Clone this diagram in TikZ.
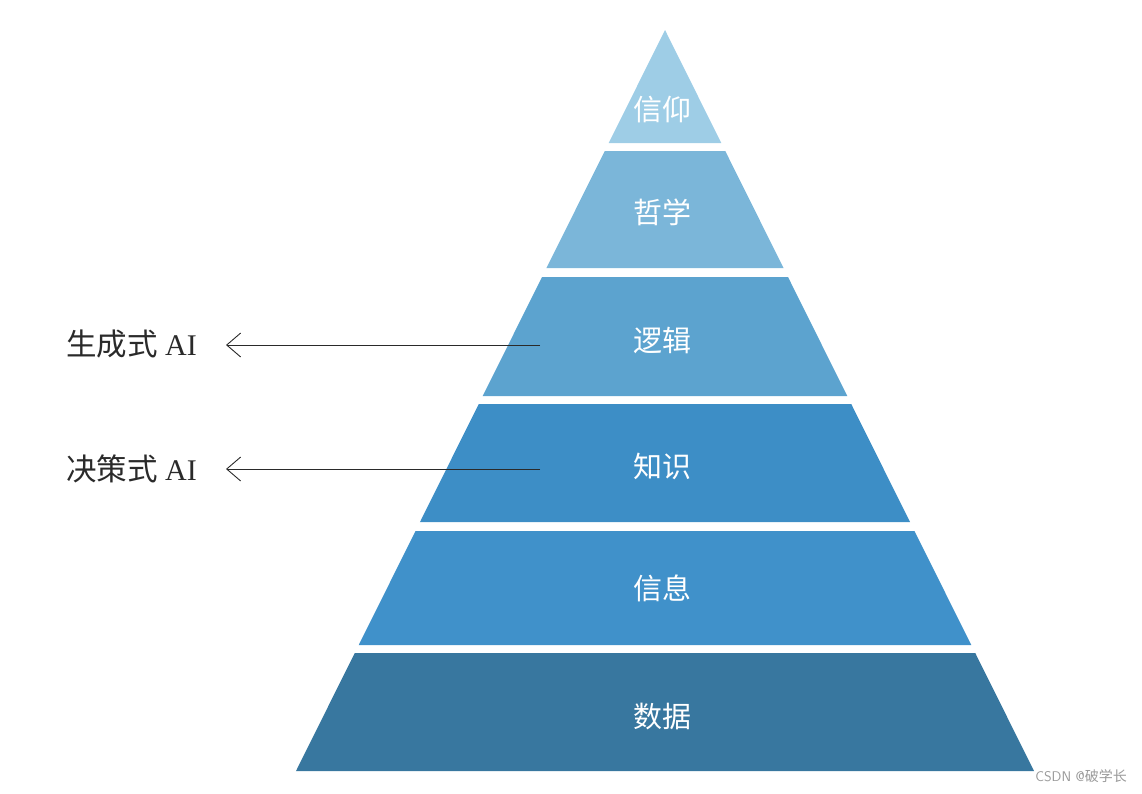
\documentclass[tikz,border=0pt]{standalone}
\usepackage{fontspec}
\setmainfont{Liberation Serif}
\newfontfamily\cjk{Noto Sans CJK SC}
\usetikzlibrary{arrows.meta}
\definecolor{cA}{HTML}{9ECDE6}
\definecolor{cB}{HTML}{7BB6D9}
\definecolor{cC}{HTML}{5CA3CF}
\definecolor{cD}{HTML}{3D8EC6}
\definecolor{cE}{HTML}{4091CA}
\definecolor{cF}{HTML}{38779F}
\definecolor{txt}{HTML}{2A2A2A}
\newcommand\pyrlayer[3]{%
  \fill[#3] ({665-(#1-30)*0.49798},#1) -- ({665+(#1-30)*0.49798},#1)
    -- ({665+(#2-30)*0.49798},#2) -- ({665-(#2-30)*0.49798},#2) -- cycle;}
\tikzset{
  lay/.style={text=white, font=\cjk\fontsize{29}{31}\selectfont, inner sep=0pt},
  side/.style={text=txt, font=\fontsize{30}{32}\selectfont, inner sep=0pt, anchor=west},
  pointer/.style={draw=txt, line width=0.9pt, -{Straight Barb[length=14pt,width=24pt,line width=0.9pt]}},
}
\begin{document}
\begin{tikzpicture}[x=1pt,y=-1pt]
\useasboundingbox (0,0) rectangle (1142,793);
\pyrlayer{30}{143}{cA}
\pyrlayer{151}{268}{cB}
\pyrlayer{277}{396}{cC}
\pyrlayer{404}{522}{cD}
\pyrlayer{531}{645}{cE}
\pyrlayer{653}{771}{cF}
\node[lay] (xinyang) at (662,110) {信仰};
\node[lay] (zhexue) at (662,212) {哲学};
\node[lay] (luoji) at (662,340) {逻辑};
\node[lay] (zhishi) at (662,466) {知识};
\node[lay] (xinxi) at (662,588) {信息};
\node[lay] (shuju) at (662,716) {数据};
\node[side] (gen) at (66,344) {{\cjk\fontsize{30.5}{32}\selectfont 生成式} AI};
\node[side] (dec) at (66,469) {{\cjk\fontsize{30.5}{32}\selectfont 决策式} AI};
\coordinate (ga) at (540,345);
\coordinate (da) at (540,469);
\coordinate (gt) at (226,345);
\coordinate (dt) at (226,469);
\draw[pointer] (ga) -- (gt);
\draw[pointer] (da) -- (dt);
\node[text=gray!80, font=\fontsize{14}{15}\selectfont\sffamily, anchor=east, inner sep=0pt] (wm) at (1127,776) {CSDN @{\cjk 破学长}};
\end{tikzpicture}
\end{document}
